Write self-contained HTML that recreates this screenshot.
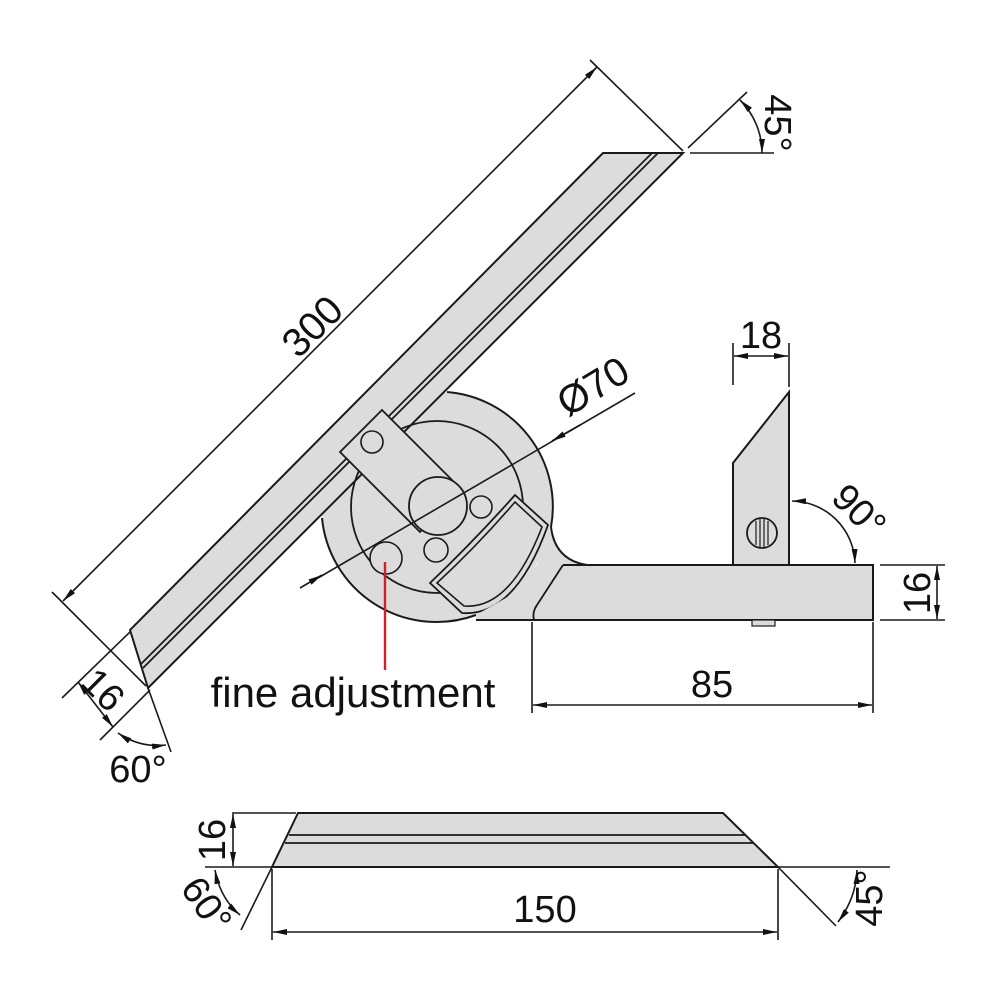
<!DOCTYPE html>
<html><head><meta charset="utf-8"><style>
html,body{margin:0;padding:0;background:#fff;}
svg{display:block;}
text{font-family:"Liberation Sans",Arial,sans-serif;fill:#111;}
</style></head><body>
<svg width="1000" height="1000" viewBox="0 0 1000 1000" xmlns="http://www.w3.org/2000/svg">
<defs>
<marker id="a" viewBox="0 0 14 6" refX="14" refY="3" markerWidth="14" markerHeight="6" markerUnits="userSpaceOnUse" orient="auto-start-reverse">
<path d="M0,0 L14,3 L0,6 Z" fill="#111"/>
</marker>
</defs>
<g stroke="#1a1a1a" fill="none" stroke-width="1.6">

<circle cx="437" cy="507" r="115" fill="#dcdcdc" stroke="none"/>
<path d="M603,153 L683,153 L148,688 L130,630 Z" fill="#dcdcdc" stroke-width="2"/>
<line x1="652" y1="153" x2="141" y2="664" stroke-width="1.8"/>
<line x1="658" y1="153" x2="143" y2="668" stroke-width="1.8"/>
<path d="M447,392 A115,115 0 0 1 551,527" stroke-width="2"/>
<path d="M322,518 A115,115 0 0 0 476,615" stroke-width="2"/>
<circle cx="437" cy="507" r="86" stroke-width="1.8"/>
<path d="M340,452 L382,410 L462,490 L420,532 Z" fill="#dcdcdc" stroke-width="1.8"/>
<circle cx="372" cy="442" r="11"/>
<circle cx="481" cy="507" r="11" fill="#dcdcdc"/>
<circle cx="436" cy="550" r="12" fill="#dcdcdc"/>
<circle cx="438" cy="506" r="29" fill="#dcdcdc" stroke-width="1.8"/>
<circle cx="386" cy="558" r="16" fill="#dcdcdc"/>
<path d="M430,583 Q474,541 515,495 L548,525 Q515,617 462,613 Z" fill="#dcdcdc" stroke-width="1.8"/>
<path d="M437,583 Q478,545 515,502 L542,527 Q510,610 464,606 Z" fill="#dcdcdc" stroke-width="1.6"/>

<path d="M551,527 Q555,560 587,565 L873,565 L873,620 L476,620 L476,615 L511,595 L537,565 Z" fill="#dcdcdc" stroke="none"/>
<path d="M551,527 Q555,560 587,565" stroke-width="2"/>
<line x1="563" y1="565" x2="874" y2="565" stroke-width="2"/>
<line x1="873" y1="565" x2="873" y2="620" stroke-width="2"/>
<line x1="476" y1="620" x2="874" y2="620" stroke-width="2"/>
<path d="M563,565 L537,605 Q532,612 534,620" stroke-width="1.8"/>
<rect x="752" y="620" width="23" height="6" fill="#dcdcdc" stroke-width="1.2"/>
<path d="M733,565 L733,463 L789,392 L789,565 Z" fill="#dcdcdc" stroke-width="2"/>
<circle cx="762" cy="533" r="15" fill="#dcdcdc" stroke-width="1.8"/>
<g stroke-width="1.2"><line x1="756" y1="521" x2="756" y2="545"/><line x1="760" y1="519" x2="760" y2="547"/><line x1="764" y1="519" x2="764" y2="547"/><line x1="768" y1="521" x2="768" y2="545"/></g>

<line x1="385" y1="562" x2="385" y2="670" stroke="#d0202a" stroke-width="2.4"/>

<line x1="683" y1="151" x2="590" y2="60"/>
<line x1="146" y1="686" x2="52" y2="592"/>
<line x1="63" y1="601" x2="597" y2="67" marker-start="url(#a)" marker-end="url(#a)"/>
<line x1="318" y1="578" x2="635" y2="393"/>
<line x1="300" y1="588" x2="322" y2="575" marker-end="url(#a)"/>
<line x1="580" y1="425" x2="552" y2="441" marker-end="url(#a)"/>
<line x1="690" y1="153" x2="774" y2="153"/>
<line x1="688" y1="148" x2="747" y2="92"/>
<path d="M740,100 A75,75 0 0 1 762,153" marker-start="url(#a)" marker-end="url(#a)"/>
<line x1="130" y1="632" x2="62" y2="698"/>
<line x1="150" y1="690" x2="100" y2="740"/>
<line x1="78" y1="682" x2="113" y2="727" marker-start="url(#a)" marker-end="url(#a)"/>
<line x1="148" y1="688" x2="171" y2="752"/>
<path d="M118,733 Q140,748 166,745" marker-start="url(#a)" marker-end="url(#a)"/>
<line x1="733" y1="343" x2="733" y2="385"/>
<line x1="789" y1="343" x2="789" y2="387"/>
<line x1="734" y1="356" x2="788" y2="356" marker-start="url(#a)" marker-end="url(#a)"/>
<path d="M792,501 A64,64 0 0 1 855,563" marker-start="url(#a)" marker-end="url(#a)"/>
<line x1="880" y1="565" x2="945" y2="565"/>
<line x1="880" y1="620" x2="945" y2="620"/>
<line x1="937" y1="566" x2="937" y2="619" marker-start="url(#a)" marker-end="url(#a)"/>
<line x1="532" y1="622" x2="532" y2="713"/>
<line x1="873" y1="622" x2="873" y2="713"/>
<line x1="533" y1="705" x2="872" y2="705" marker-start="url(#a)" marker-end="url(#a)"/>

<path d="M298,813 L723,813 L778,867 L272,867 Z" fill="#dcdcdc" stroke-width="2"/>
<line x1="289" y1="835" x2="745" y2="835" stroke-width="1.8"/>
<line x1="285" y1="843" x2="753" y2="843" stroke-width="1.8"/>
<line x1="232" y1="813" x2="296" y2="813"/>
<line x1="205" y1="867" x2="272" y2="867"/>
<line x1="778" y1="867" x2="890" y2="867"/>
<line x1="233" y1="814" x2="233" y2="866" marker-start="url(#a)" marker-end="url(#a)"/>
<line x1="272" y1="867" x2="241" y2="930"/>
<path d="M215,870 Q220,898 240,915" marker-start="url(#a)" marker-end="url(#a)"/>
<line x1="778" y1="867" x2="836" y2="926"/>
<path d="M838,922 Q856,898 857,870" marker-start="url(#a)" marker-end="url(#a)"/>
<line x1="272" y1="869" x2="272" y2="940"/>
<line x1="778" y1="869" x2="778" y2="940"/>
<line x1="273" y1="932" x2="777" y2="932" marker-start="url(#a)" marker-end="url(#a)"/>
</g>

<text x="0" y="0" font-size="40" text-anchor="middle" transform="translate(322,336) rotate(-45)">300</text>
<text x="0" y="0" font-size="40" text-anchor="middle" transform="translate(600,398) rotate(-31)">Ø70</text>
<text x="0" y="0" font-size="38" text-anchor="middle" transform="translate(765,123) rotate(90)">45°</text>
<text x="0" y="0" font-size="38" text-anchor="middle" transform="translate(94,699) rotate(45)">16</text>
<text x="138" y="782" font-size="38" text-anchor="middle">60°</text>
<text x="761" y="348" font-size="38" text-anchor="middle">18</text>
<text x="0" y="0" font-size="38" text-anchor="middle" transform="translate(850,520) rotate(45)">90°</text>
<text x="0" y="0" font-size="38" text-anchor="middle" transform="translate(930,593) rotate(-90)">16</text>
<text x="712" y="697" font-size="38" text-anchor="middle">85</text>
<text x="353" y="707" font-size="42" text-anchor="middle">fine adjustment</text>
<text x="0" y="0" font-size="38" text-anchor="middle" transform="translate(196,912) rotate(55)">60°</text>
<text x="0" y="0" font-size="38" text-anchor="middle" transform="translate(225,840) rotate(-90)">16</text>
<text x="0" y="0" font-size="38" text-anchor="middle" transform="translate(882,898) rotate(-90)">45°</text>
<text x="545" y="922" font-size="38" text-anchor="middle">150</text>
</svg>
</body></html>
